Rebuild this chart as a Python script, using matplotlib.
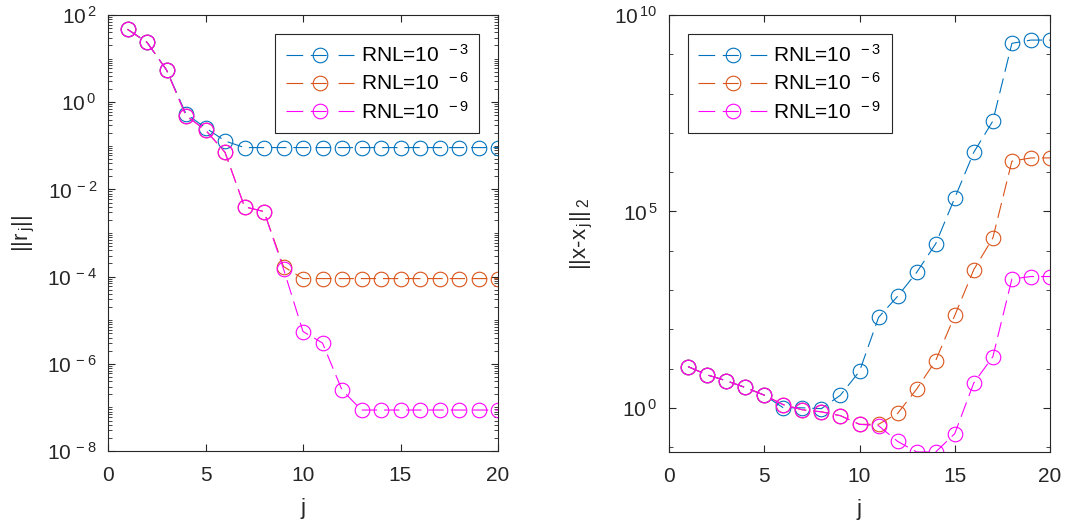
import numpy as np
import matplotlib.pyplot as plt
from matplotlib.ticker import FixedLocator, FuncFormatter, NullFormatter

plt.rcParams['font.family'] = ['Liberation Sans', 'DejaVu Sans']
plt.rcParams['mathtext.default'] = 'regular'
plt.rcParams['lines.scale_dashes'] = False

# iteration index
j = np.arange(1, 21)

# residual norm ||r_j|| for each RNL level
res_3 = [47, 23.6, 5.5, 0.54, 0.26, 0.129, 0.091, 0.091, 0.091, 0.091,
         0.091, 0.091, 0.091, 0.091, 0.091, 0.091, 0.091, 0.091, 0.091, 0.091]
res_6 = [47, 23.6, 5.5, 0.49, 0.23, 0.071, 0.0040, 0.0031, 1.7e-4, 9e-5,
         9e-5, 9e-5, 9e-5, 9e-5, 9e-5, 9e-5, 9e-5, 9e-5, 9e-5, 9e-5]
res_9 = [47, 23.6, 5.5, 0.49, 0.23, 0.071, 0.0040, 0.0031, 1.5e-4, 5.5e-6,
         3.0e-6, 2.5e-7, 8.7e-8, 8.7e-8, 8.7e-8, 8.7e-8, 8.7e-8, 8.7e-8, 8.7e-8, 8.7e-8]

# error norm ||x - x_j||_2
err_3 = [11.2, 6.9, 4.9, 3.3, 2.1, 1.0, 1.0, 0.95, 2.1, 8.5,
         200, 690, 2.8e3, 1.5e4, 2.2e5, 3.2e6, 2.0e7, 1.9e9, 2.3e9, 2.3e9]
err_6 = [11.2, 6.9, 4.9, 3.3, 2.1, 1.2, 0.89, 0.79, 0.63, 0.38,
         0.38, 0.72, 3.0, 16, 224, 3.3e3, 2.1e4, 1.9e6, 2.3e6, 2.3e6]
err_9 = [11.2, 6.9, 4.9, 3.3, 2.1, 1.2, 0.89, 0.79, 0.63, 0.38,
         0.35, 0.14, 0.075, 0.075, 0.22, 4.3, 20, 1.9e3, 2.2e3, 2.2e3]

labels = ['RNL=10$^{\\,\\,\\,-3}$', 'RNL=10$^{\\,\\,\\,-6}$', 'RNL=10$^{\\,\\,\\,-9}$']
colors = ['#0072BD', '#D95319', '#FF00FF']
axcol = '#262626'
fs = 15


def pow10(v, pos):
    return '10$^{\\,%d}$' % int(round(np.log10(v)))


def draw(ax, series, loc):
    for s, lab, c in zip(series, labels, colors):
        ax.plot(j, s, color=c, lw=0.8, dashes=(11, 5), marker='o', ms=10.5,
                mfc='none', mec=c, mew=0.8, label=lab)
    ax.set_yscale('log')
    ax.set_xlim(0, 20)
    ax.set_xticks([0, 5, 10, 15, 20])
    ax.set_xlabel('j', fontsize=fs + 1, color=axcol, labelpad=9)
    ax.tick_params(which='both', direction='in', top=True, right=True,
                   colors=axcol, labelsize=fs)
    ax.tick_params(axis='x', pad=11)
    ax.tick_params(axis='y', pad=8)
    ax.tick_params(which='major', length=5, width=0.8)
    ax.tick_params(which='minor', length=3, width=0.6)
    for sp in ax.spines.values():
        sp.set_color(axcol)
        sp.set_linewidth(0.8)
    leg = ax.legend(loc=loc, fontsize=fs, handlelength=3.3, frameon=True,
                    fancybox=False, edgecolor=axcol, framealpha=1,
                    borderaxespad=0.9, borderpad=0.5, labelspacing=0.3,
                    handletextpad=0.3)
    leg.get_frame().set_linewidth(0.8)
    # dash, dash through the circle, dash in the legend keys
    for ln in leg.get_lines():
        ln.set_dashes((12, 5.5, 11.5, 8.5))


fig = plt.figure(figsize=(10.73, 5.24), dpi=100)

ax1 = fig.add_axes([108 / 1073, 73 / 524, 390 / 1073, 436 / 524])
draw(ax1, [res_3, res_6, res_9], 'upper right')
ax1.set_ylim(1e-8, 1e2)
ax1.yaxis.set_major_locator(FixedLocator([1e-8, 1e-6, 1e-4, 1e-2, 1e0, 1e2]))
ax1.yaxis.set_minor_locator(FixedLocator(
    [m * 10.0 ** e for e in range(-8, 2) for m in range(1, 10)
     if not (m == 1 and e % 2 == 0)]))
ax1.yaxis.set_major_formatter(FuncFormatter(pow10))
ax1.yaxis.set_minor_formatter(NullFormatter())
ax1.set_ylabel('||r$_{\\,j}$||', fontsize=fs + 1, color=axcol, labelpad=7)

ax2 = fig.add_axes([669 / 1073, 72 / 524, 381 / 1073, 437 / 524])
draw(ax2, [err_3, err_6, err_9], 'upper left')
ax2.set_ylim(min(err_9), 1e10)
ax2.yaxis.set_major_locator(FixedLocator([1e0, 1e5, 1e10]))
ax2.yaxis.set_minor_locator(FixedLocator(
    [10.0 ** e for e in range(-1, 10) if e % 5 != 0]))
ax2.yaxis.set_major_formatter(FuncFormatter(pow10))
ax2.yaxis.set_minor_formatter(NullFormatter())
ax2.set_ylabel('||x-x$_{\\,j}$||$_{\\,2}$', fontsize=fs + 1, color=axcol, labelpad=14)

fig.savefig('out.png', dpi=100)
